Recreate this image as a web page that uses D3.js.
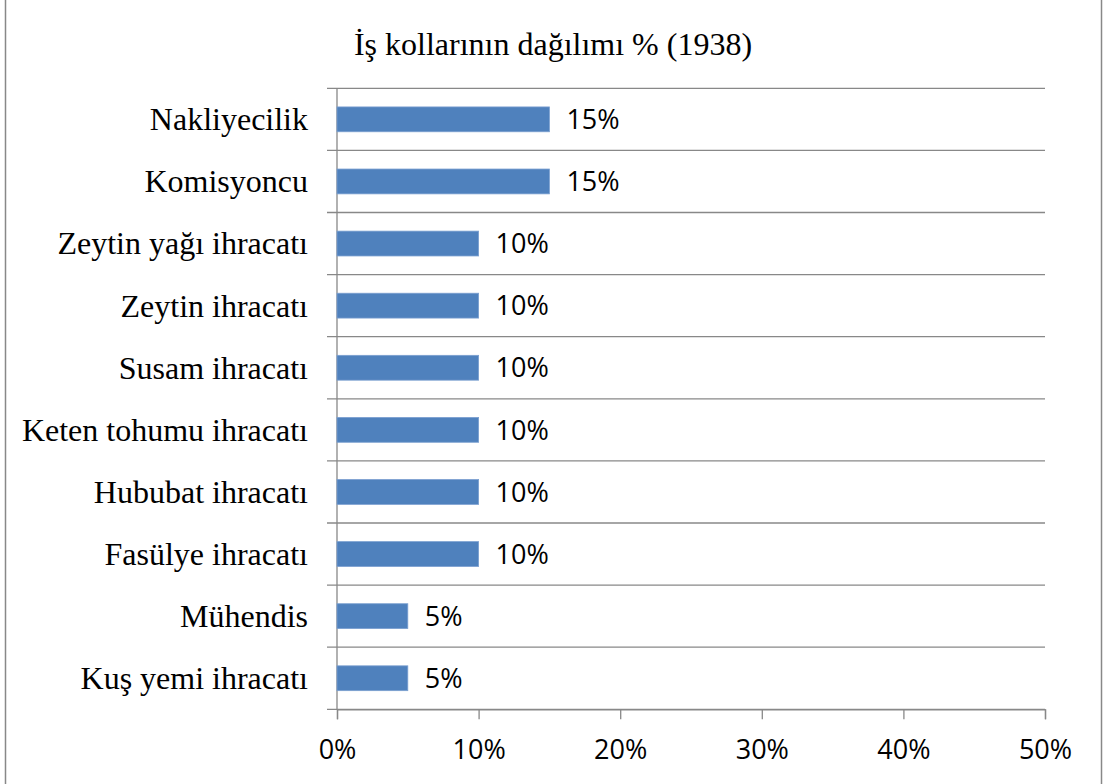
<!DOCTYPE html>
<html>
<head>
<meta charset="utf-8">
<script src="https://cdn.jsdelivr.net/npm/d3@7"></script>
<style>
  html, body { margin: 0; padding: 0; background: #ffffff; }
  svg { display: block; }
</style>
</head>
<body>
<svg id="chart" width="1107" height="784"></svg>
<script>
// Share of business lines, 1938 (top to bottom)
const categories = [
  "Nakliyecilik",
  "Komisyoncu",
  "Zeytin yağı ihracatı",
  "Zeytin ihracatı",
  "Susam ihracatı",
  "Keten tohumu ihracatı",
  "Hububat ihracatı",
  "Fasülye ihracatı",
  "Mühendis",
  "Kuş yemi ihracatı"
];
const shares = [0.15, 0.15, 0.10, 0.10, 0.10, 0.10, 0.10, 0.10, 0.05, 0.05];
const xTicks = [0, 0.1, 0.2, 0.3, 0.4, 0.5];
const title = "İş kollarının dağılımı % (1938)";

const W = 1107, H = 784;
const plot = { left: 337, right: 1045, top: 88.3, bottom: 709.3 };
const gridColor = "#888888";
const barColor = "#4F81BD";
const serif = "'Liberation Serif', 'Times New Roman', serif";
const sans = "'Open Sans', 'Noto Sans', sans-serif";
const sansSize = 27;

const svg = d3.select("#chart");

// Outer chart frame
svg.append("rect")
  .attr("x", 5.5).attr("y", -3)
  .attr("width", 1096).attr("height", H + 6)
  .attr("fill", "none")
  .attr("stroke", gridColor)
  .attr("stroke-width", 1.5);

const x = d3.scaleLinear().domain([0, 0.5]).range([plot.left, plot.right]);
const y = d3.scaleBand()
  .domain(categories)
  .range([plot.top, plot.bottom])
  .paddingInner(0.6)
  .paddingOuter(0.3);

// Horizontal gridlines at category boundaries, with outward ticks
const step = y.step();
const bounds = d3.range(categories.length + 1).map(i => plot.top + i * step);
svg.append("g").selectAll("line")
  .data(bounds)
  .join("line")
  .attr("x1", plot.left - 10).attr("x2", plot.right)
  .attr("y1", d => d).attr("y2", d => d)
  .attr("stroke", gridColor)
  .attr("stroke-width", 1.3);

// Vertical category axis line
svg.append("line")
  .attr("x1", plot.left).attr("x2", plot.left)
  .attr("y1", plot.top).attr("y2", plot.bottom)
  .attr("stroke", gridColor)
  .attr("stroke-width", 1.3);

// Bottom value axis
const xAxis = d3.axisBottom(x)
  .tickValues(xTicks)
  .tickFormat(d3.format(".0%"))
  .tickSize(10)
  .tickPadding(21);
const gx = svg.append("g")
  .attr("transform", `translate(0,${plot.bottom})`)
  .call(xAxis);
gx.select(".domain").attr("stroke", gridColor).attr("stroke-width", 1.3);
gx.selectAll(".tick line").attr("stroke", gridColor).attr("stroke-width", 1.3);
gx.selectAll(".tick text")
  .attr("font-family", sans)
  .attr("font-size", sansSize)
  .attr("fill", "#000");

// Category labels
svg.append("g").selectAll("text")
  .data(categories)
  .join("text")
  .attr("x", 308)
  .attr("y", d => y(d) + y.bandwidth() / 2)
  .attr("dy", "0.34em")
  .attr("text-anchor", "end")
  .attr("font-family", serif)
  .attr("font-size", 32)
  .attr("fill", "#000")
  .text(d => d);

// Bars
svg.append("g").selectAll("rect")
  .data(categories)
  .join("rect")
  .attr("x", x(0))
  .attr("y", d => y(d))
  .attr("width", (d, i) => x(shares[i]) - x(0))
  .attr("height", y.bandwidth())
  .attr("fill", barColor)
  .attr("stroke", "#7a9fd0")
  .attr("stroke-width", 0.8);

// Value labels
svg.append("g").selectAll("text")
  .data(categories)
  .join("text")
  .attr("x", (d, i) => x(shares[i]) + 17)
  .attr("y", d => y(d) + y.bandwidth() / 2)
  .attr("dy", "0.36em")
  .attr("font-family", sans)
  .attr("font-size", sansSize)
  .attr("fill", "#000")
  .text((d, i) => d3.format(".0%")(shares[i]));

// Title
svg.append("text")
  .attr("x", 553)
  .attr("y", 55)
  .attr("text-anchor", "middle")
  .attr("font-family", serif)
  .attr("font-size", 32)
  .attr("fill", "#000")
  .text(title);
</script>
</body>
</html>
